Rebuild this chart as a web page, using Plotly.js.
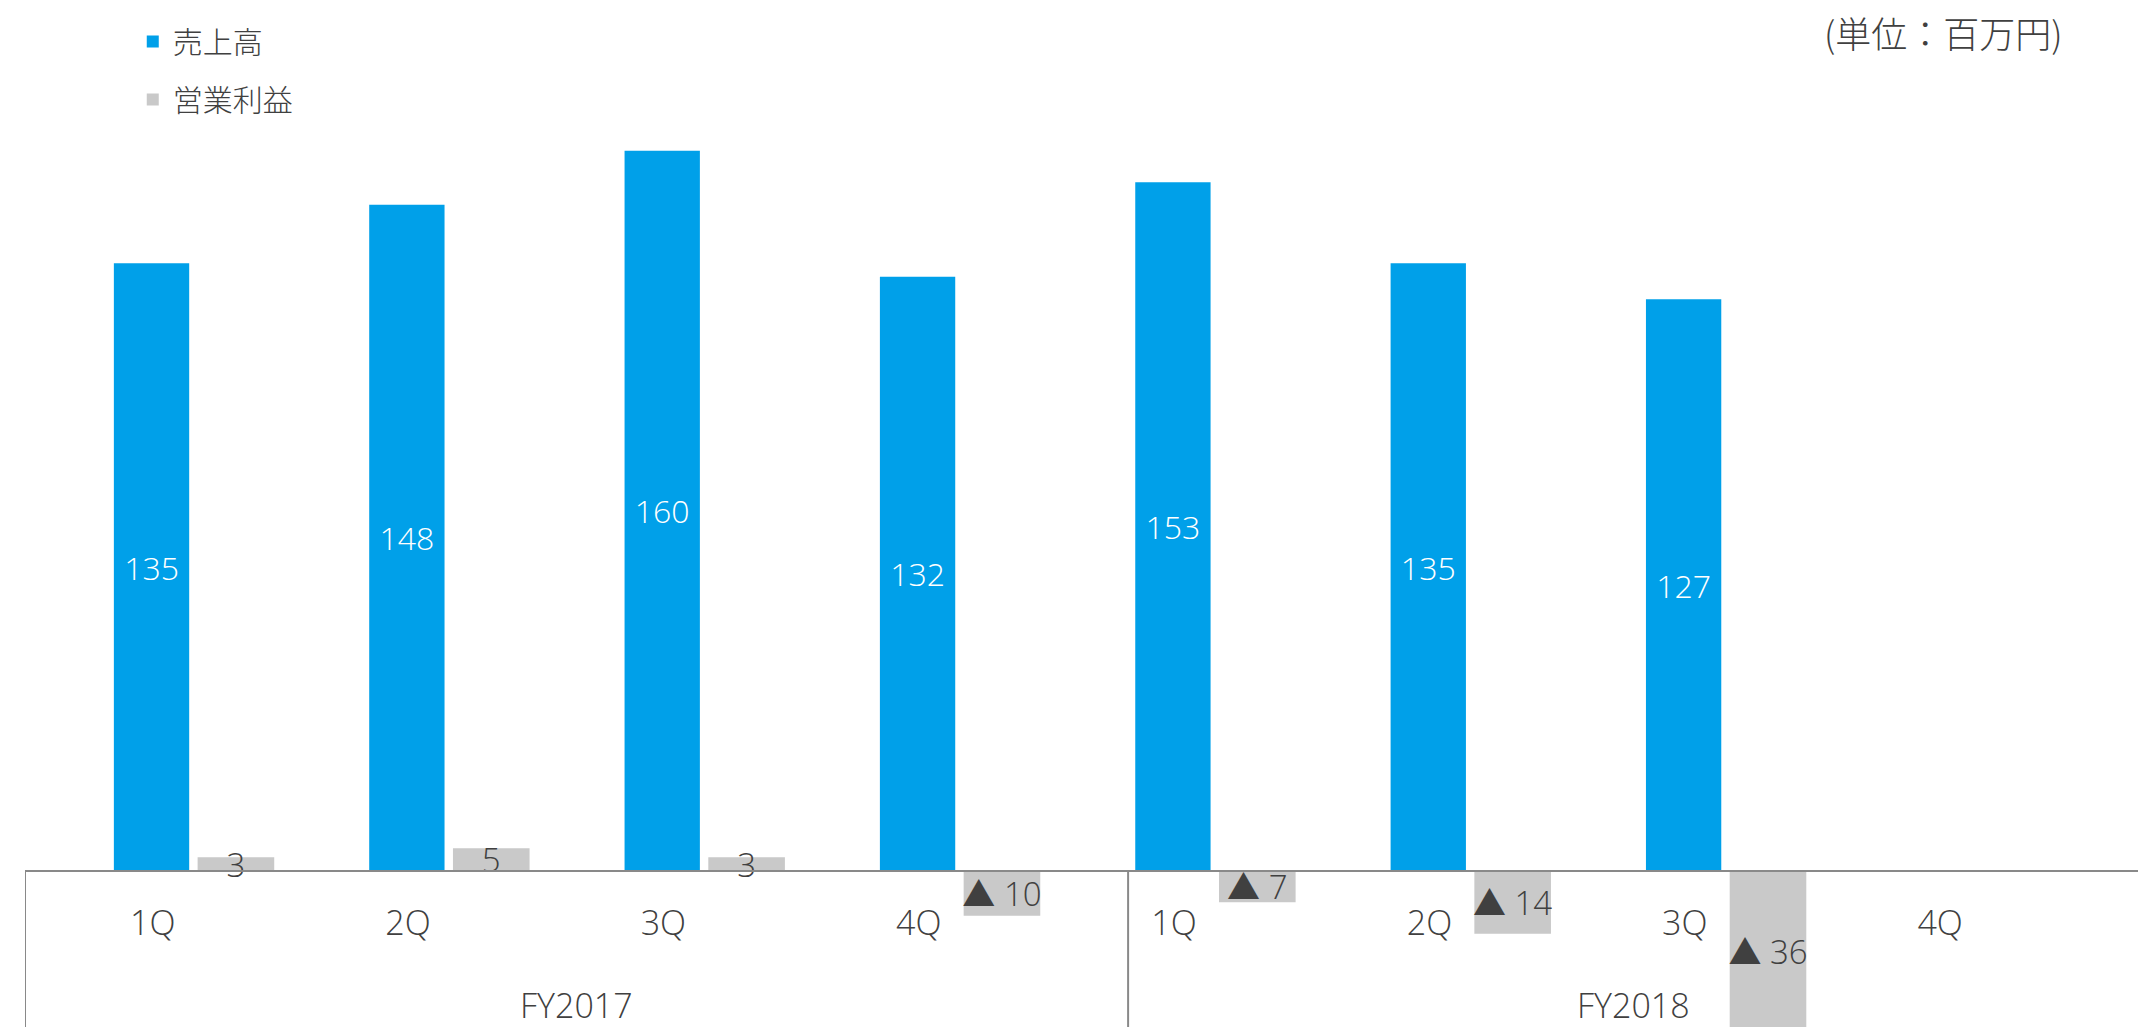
<!DOCTYPE html>
<html>
<head>
<meta charset="utf-8">
<script src="https://cdn.plot.ly/plotly-3.0.1.min.js"></script>
<style>
  html, body { margin: 0; padding: 0; background: #ffffff; }
  #chart { width: 2138px; height: 1027px; }
</style>
</head>
<body>
<div id="chart"></div>
<script>
// ---- data ----
const fiscalYears = ['FY2017', 'FY2017', 'FY2017', 'FY2017', 'FY2018', 'FY2018', 'FY2018', 'FY2018'];
const quarters = ['1Q', '2Q', '3Q', '4Q', '1Q', '2Q', '3Q', '4Q'];
const groupLabels = ['FY2017', 'FY2018'];
const sales = [135, 148, 160, 132, 153, 135, 127, null];          // 売上高
const operatingProfit = [3, 5, 3, -10, -7, -14, -36, null];         // 営業利益
const seriesNames = ['売上高', '営業利益'];
const unitLabel = '(単位：百万円)';

// ---- styling / layout ----
const BLUE = '#00A0E9';
const GRAY = '#C9C9C9';
const TEXT = '#404040';
const LINE = '#898989';
const FONT = "'Open Sans', 'Noto Sans CJK JP', sans-serif";
const CJK = "'Noto Sans CJK JP Light', 'Noto Sans CJK JP DemiLight', 'Noto Sans CJK JP', 'Open Sans', sans-serif";

const keys = quarters.map((q, i) => fiscalYears[i] + ' ' + q);
const xRange = [-0.5, 7.775];
const yRange = [-34.7, 193.5];
const groupBounds = [-0.5, 3.82, 7.775];

const fmt = v => (v == null ? '' : (v < 0 ? '▲ ' + Math.abs(v) : String(v)));

const traces = [
  {
    type: 'bar', name: seriesNames[0], legendgroup: 'a',
    x: keys, y: sales,
    marker: { color: BLUE },
    width: 0.295, offset: -0.152,
    text: sales.map(fmt), textposition: 'inside', insidetextanchor: 'middle',
    textangle: 0, constraintext: 'none',
    textfont: { color: '#ffffff', size: 32, family: FONT, weight: 300 },
    hoverinfo: 'skip'
  },
  {
    type: 'bar', name: seriesNames[1], legendgroup: 'b',
    x: keys, y: operatingProfit,
    marker: { color: GRAY },
    width: 0.3, offset: 0.176,
    text: operatingProfit.map(fmt), textposition: 'inside', insidetextanchor: 'middle',
    textangle: 0, constraintext: 'none',
    textfont: { color: TEXT, size: 33, family: FONT, weight: 300 },
    hoverinfo: 'skip'
  }
];

const zeroPos = -yRange[0] / (yRange[1] - yRange[0]);

const shapes = groupBounds.slice(0, 2).map(xv => ({
  type: 'line', xref: 'x', yref: 'y',
  x0: xv, x1: xv, y0: 0, y1: yRange[0],
  line: { color: LINE, width: 2 }
}));

const annotations = groupLabels.map((g, i) => ({
  text: g, xref: 'x', yref: 'y',
  x: (groupBounds[i] + groupBounds[i + 1]) / 2, y: -29.9,
  showarrow: false, xanchor: 'center', yanchor: 'middle',
  height: 34, valign: 'middle', borderpad: 0,
  font: { family: FONT, size: 34, color: TEXT, weight: 300 }
}));
annotations.push({
  text: unitLabel, xref: 'paper', yref: 'paper',
  x: 0.9655, y: 0.969, xanchor: 'right', yanchor: 'middle', showarrow: false,
  font: { family: CJK, size: 36, color: TEXT, weight: 300 }
});

const layout = {
  width: 2138, height: 1027,
  margin: { l: 25, r: 0, t: 0, b: 0, pad: 0 },
  paper_bgcolor: '#ffffff', plot_bgcolor: '#ffffff',
  barmode: 'overlay',
  showlegend: true,
  legend: {
    x: 0.051, y: 0.985, xanchor: 'left', yanchor: 'top',
    orientation: 'v', traceorder: 'grouped', tracegroupgap: 16,
    font: { family: CJK, size: 30, color: TEXT, weight: 300 },
    bgcolor: 'rgba(0,0,0,0)'
  },
  xaxis: {
    type: 'category', categoryorder: 'array', categoryarray: keys,
    range: xRange, fixedrange: true,
    tickmode: 'array', tickvals: keys, ticktext: quarters,
    anchor: 'free', position: zeroPos,
    showline: true, linecolor: LINE, linewidth: 2.5,
    ticks: 'outside', ticklen: 22, tickcolor: 'rgba(0,0,0,0)',
    showgrid: false, zeroline: false,
    tickfont: { family: FONT, size: 34, color: TEXT, weight: 300 }
  },
  yaxis: {
    range: yRange, fixedrange: true,
    showgrid: false, zeroline: false, showticklabels: false, showline: false, ticks: ''
  },
  shapes: shapes,
  annotations: annotations
};

Plotly.newPlot('chart', traces, layout, { displayModeBar: false, staticPlot: true });
</script>
</body>
</html>
